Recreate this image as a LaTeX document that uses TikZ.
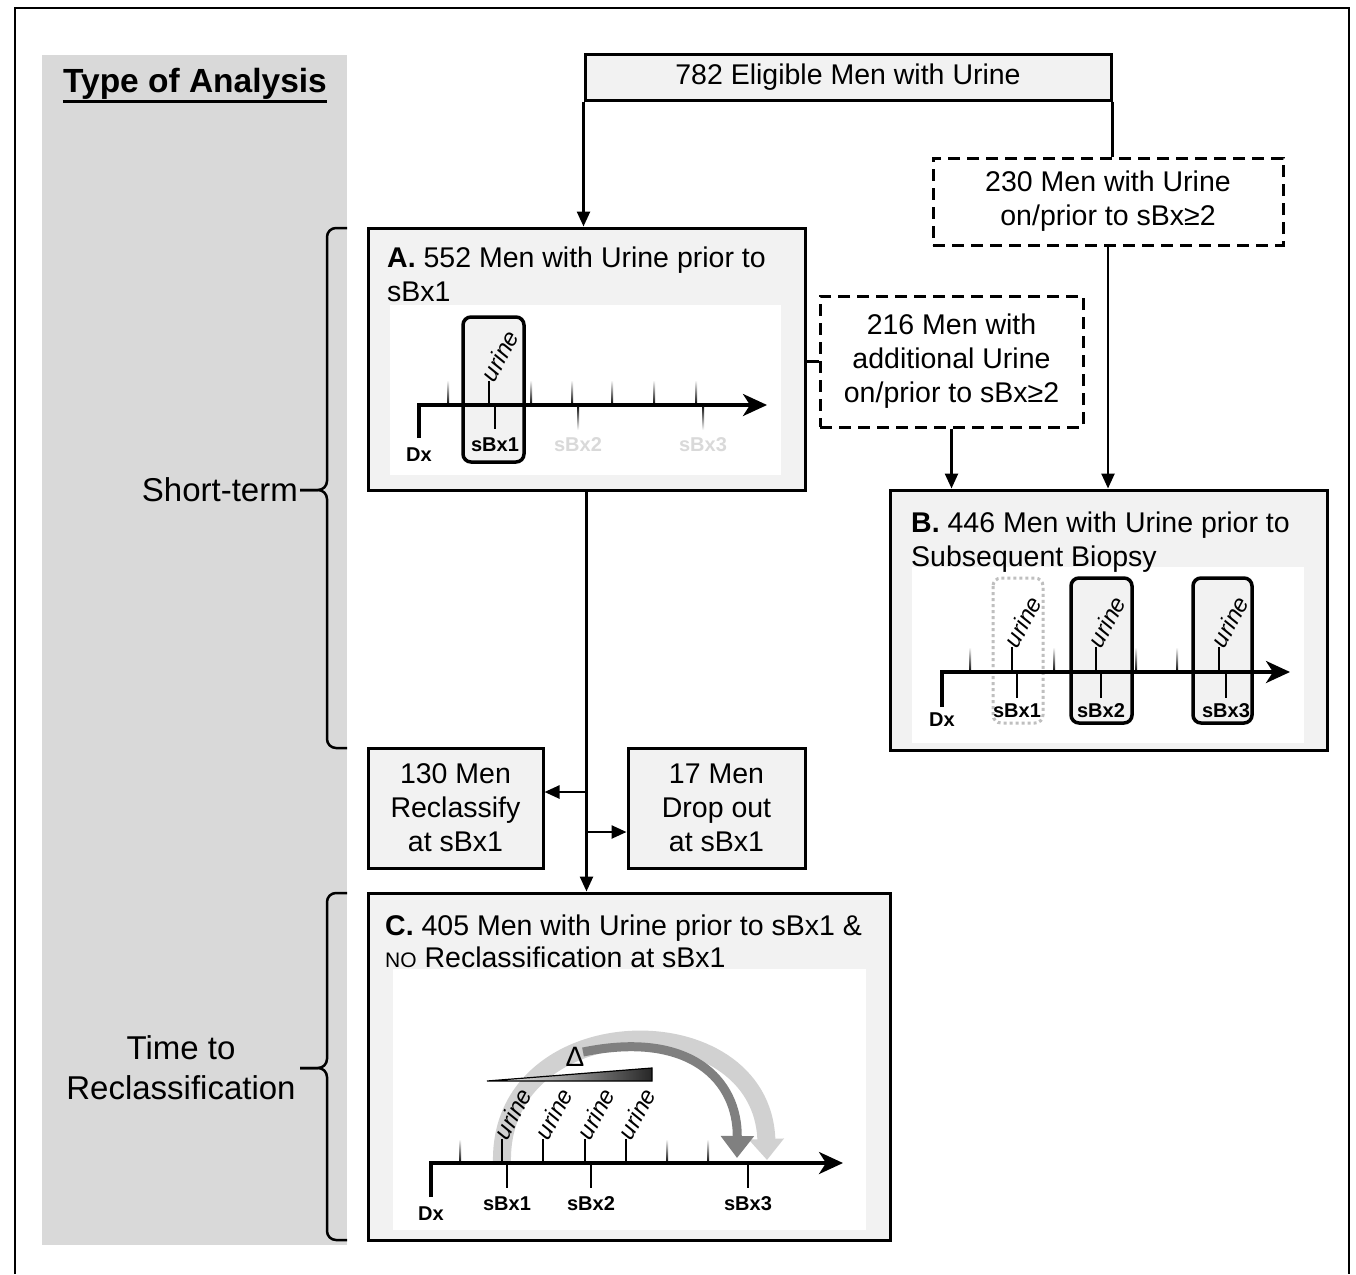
\documentclass[tikz,border=0pt]{standalone}
\usepackage{fontspec}
\setmainfont{Liberation Sans}
\usetikzlibrary{arrows.meta}
\newcommand\boxfont{\fontsize{28.5pt}{34pt}\selectfont}
\newcommand\sidefont{\fontsize{33pt}{40pt}\selectfont}
\newcommand\tlfont{\fontsize{20pt}{22pt}\selectfont\bfseries}
\newcommand\urfont{\fontsize{24pt}{26pt}\selectfont\itshape}
\begin{document}
\begin{tikzpicture}[x=1pt,y=-1pt,
  box/.style={draw, line width=3pt, fill=black!5, inner sep=0pt, font=\boxfont, align=center},
  dbox/.style={draw, line width=3pt, dash pattern=on 12pt off 7pt, fill=white, inner sep=0pt, font=\boxfont, align=center},
  arr/.style={line width=2.5pt, -{Triangle[length=15pt,width=13pt]}},
  conn/.style={line width=2.5pt},
  brace/.style={line width=2.5pt, rounded corners=9pt},
  axis/.style={line width=3.5pt, -{Stealth[length=24pt,width=22pt,inset=7pt]}},
  tick/.style={line width=1.5pt},
  tl/.style={font=\tlfont, inner sep=0pt},
  fadedlab/.style={font=\tlfont, inner sep=0pt, text=black!15},
  urinelab/.style={rotate=62, anchor=west, font=\urfont, inner sep=0.5pt},
  sel/.style={draw, line width=3.5pt, rounded corners=8pt, fill=black!5},
  title/.style={font=\boxfont, anchor=base west, inner sep=0pt},
  side/.style={font=\sidefont, inner sep=0pt},
]
\useasboundingbox (0,0) rectangle (1356,1274);
\fill[white] (0,0) rectangle (1356,1274);
\draw[line width=1.5pt] (15,1274) -- (15,8) -- (1349,8) -- (1349,1274);
% left band
\fill[black!15] (42,55) rectangle (347,1245);
\node[font=\fontsize{33.5pt}{40pt}\selectfont\bfseries, inner sep=0pt] (toa) at (195,84) {Type of Analysis};
\coordinate (ul) at (0,101);
\draw[line width=3pt] (toa.west |- ul) -- (toa.east |- ul);
\node[side, anchor=east] (st) at (298,490) {Short-term};
\node[side, align=center] (ttr) at (181,1068) {Time to\\Reclassification};
\draw[brace] (347,228) -- (327,228) -- (327,490) -- (300,490);
\draw[brace] (300,490) -- (327,490) -- (327,748) -- (347,748);
\draw[brace] (347,893) -- (327,893) -- (327,1068) -- (300,1068);
\draw[brace] (300,1068) -- (327,1068) -- (327,1240) -- (347,1240);

% boxes
\node[box, minimum width=526pt, minimum height=46pt] (top) at (848,77) {782 Eligible Men with Urine};
\node[dbox, minimum width=350pt, minimum height=87pt] (n230) at (1108,201.5) {230 Men with Urine\\on/prior to sBx≥2};
\node[box, minimum width=437pt, minimum height=262pt] (A) at (586.5,359) {};
\node[dbox, minimum width=263pt, minimum height=131pt] (n216) at (951.5,361.5) {216 Men with\\additional Urine\\on/prior to sBx≥2};
\node[box, minimum width=437pt, minimum height=260pt] (B) at (1108.5,620) {};
\node[box, minimum width=175pt, minimum height=120pt] (n130) at (455.5,808) {130 Men\\Reclassify\\at sBx1};
\node[box, minimum width=177pt, minimum height=120pt] (n17) at (716.5,808) {17 Men\\Drop out\\at sBx1};
\node[box, minimum width=522pt, minimum height=347pt] (C) at (629,1066.5) {};

% connectors
\draw[arr] (top.south west) -- (top.south west |- A.north);
\draw[conn] (top.south east) -- (top.south east |- n230.north);
\draw[arr] (n230.south) -- (n230.south |- B.north);
\draw[conn] (A.east |- n216.west) -- (n216.west);
\draw[arr] (n216.south) -- (n216.south |- B.north);
\draw[arr] (A.south) -- (A.south |- C.north);
\coordinate (b1) at (586.5,792);
\coordinate (b2) at (586.5,832);
\draw[arr] (b1) -- (b1 -| n130.east);
\draw[arr] (b2) -- (b2 -| n17.west);

% panels
\fill[white] (390,305) rectangle (781,475);
\fill[white] (912,567) rectangle (1304,743);
\fill[white] (393,969) rectangle (866,1230);

% titles
\node[title] (At1) at (387,267) {\textbf{A.} 552 Men with Urine prior to};
\node[title] (At2) at (387,301) {sBx1};
\node[title] (Bt1) at (911,532) {\textbf{B.} 446 Men with Urine prior to};
\node[title] (Bt2) at (911,566) {Subsequent Biopsy};
\node[title] (Ct1) at (385,935) {\textbf{C.} 405 Men with Urine prior to sBx1 \&};
\node[title] (Ct2) at (385,967) {{\fontsize{21pt}{24pt}\selectfont NO} Reclassification at sBx1};

% ---------- panel A timeline
\draw[sel] (463,317) rectangle (524,462);
\foreach \x in {448,531,572,612,654,696}
  \shade[top color=white, bottom color=black] (\x-1,380) rectangle (\x+1,405);
\draw[axis] (419,438) -- (419,405) -- (767,405);
\draw[tick] (489,381) -- (489,405);
\node[urinelab] (uA1) at (487,380) {urine};
\draw[tick] (495,405) -- (495,429);
\foreach \x in {578,703}
  \shade[top color=black, bottom color=white] (\x-1,405) rectangle (\x+1,430);
\node[tl] (dxA) at (419,455) {Dx};
\node[tl] (sA1) at (495,445) {sBx1};
\node[fadedlab] (sA2) at (578,445) {sBx2};
\node[fadedlab] (sA3) at (703,445) {sBx3};

% ---------- panel B timeline
\draw[line width=3pt, draw=black!25, dash pattern=on 3pt off 3pt, rounded corners=8pt] (993,578) rectangle (1043,723);
\draw[sel] (1071,578) rectangle (1132,723);
\draw[sel] (1193,578) rectangle (1252,723);
\foreach \x in {970,1054,1136,1177}
  \shade[top color=white, bottom color=black] (\x-1,647) rectangle (\x+1,672);
\draw[axis] (942,707) -- (942,672) -- (1290,672);
\foreach \x [count=\i] in {1012,1096,1219}{
  \draw[tick] (\x,647) -- (\x,672);
  \node[urinelab] (uB\i) at (\x-2,646) {urine};
}
\foreach \x [count=\i] in {1017,1101,1226}{
  \draw[tick] (\x,672) -- (\x,698);
  \node[tl] (sB\i) at (\x,711) {sBx\i};
}
\node[tl] (dxB) at (942,720) {Dx};

% ---------- panel C timeline
\draw[line width=18pt, black!18, -{Triangle[length=21pt,width=34pt]}] (502,1163) .. controls (498,1005) and (762,1000) .. (767,1160);
\draw[line width=9pt, black!50, -{Triangle[length=22pt,width=32pt]}] (583,1052) .. controls (690,1030) and (738,1080) .. (737,1158);
\shade[left color=white, right color=black!85] (487,1081) -- (652,1068) -- (652,1081) -- cycle;
\draw[line width=1.2pt] (487,1081) -- (652,1068) -- (652,1081) -- cycle;
\node[font=\fontsize{28pt}{30pt}\selectfont, inner sep=0pt] (delta) at (575,1057) {Δ};
\foreach \x in {460,667,708}
  \shade[top color=white, bottom color=black] (\x-1,1139) rectangle (\x+1,1163);
\draw[axis] (431,1197) -- (431,1163) -- (843,1163);
\foreach \x [count=\i] in {502,543,585,626}{
  \draw[tick] (\x,1139) -- (\x,1163);
  \node[urinelab] (uC\i) at (\x-2,1138) {urine};
}
\foreach \x [count=\i] in {507,591,748}{
  \draw[tick] (\x,1163) -- (\x,1188);
  \node[tl] (sC\i) at (\x,1204) {sBx\i};
}
\node[tl] (dxC) at (431,1214) {Dx};
\end{tikzpicture}
\end{document}
